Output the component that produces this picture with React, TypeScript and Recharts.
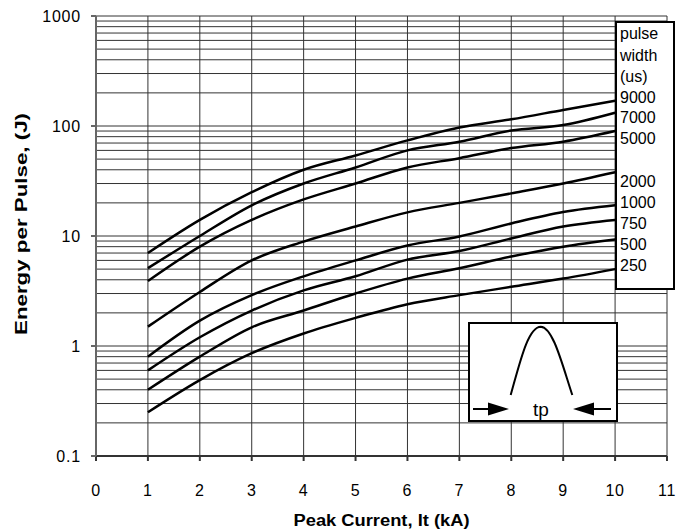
import React from "react";
import { LineChart, Line, XAxis, YAxis, ReferenceLine, Label } from "recharts";

const peakCurrent = [1, 2, 3, 4, 5, 6, 7, 8, 9, 10];
const e9000 = [7, 14, 25, 40, 54, 74, 97, 115, 140, 170];
const e7000 = [5.1, 10, 19, 30, 42, 60, 72, 91, 102, 132];
const e5000 = [3.9, 8, 14, 21.5, 30, 42, 51, 63, 72, 90];
const e2000 = [1.5, 3.1, 6, 8.9, 12.2, 16.4, 20, 24.4, 30, 38];
const e1000 = [0.8, 1.7, 2.9, 4.3, 6, 8.2, 9.9, 13, 16.5, 19];
const e750 = [0.6, 1.2, 2.1, 3.2, 4.3, 6.1, 7.3, 9.5, 12.2, 14];
const e500 = [0.4, 0.8, 1.48, 2.1, 3, 4.1, 5.1, 6.5, 8, 9.3];
const e250 = [0.25, 0.49, 0.86, 1.3, 1.8, 2.4, 2.9, 3.45, 4.1, 5];

const seriesNames = ["9000", "7000", "5000", "2000", "1000", "750", "500", "250"];
const seriesValues = [e9000, e7000, e5000, e2000, e1000, e750, e500, e250];

const xTicks = [0, 1, 2, 3, 4, 5, 6, 7, 8, 9, 10, 11];
const yTicks = [0.1, 1, 10, 100, 1000];
const yGridValues = [
  0.2, 0.3, 0.4, 0.5, 0.6, 0.7, 0.8, 0.9, 1,
  2, 3, 4, 5, 6, 7, 8, 9, 10,
  20, 30, 40, 50, 60, 70, 80, 90, 100,
  200, 300, 400, 500, 600, 700, 800, 900, 1000,
];
const xGridValues = [1, 2, 3, 4, 5, 6, 7, 8, 9, 10, 11];

const legendHeader = ["pulse", "width", "(us)"];
const legendLabelY = [97, 117, 138, 181, 202, 223, 244, 265];
const legendHeaderY = [33, 55, 76];

const data = peakCurrent.map((x, i) => {
  const row: Record<string, number> = { x };
  seriesNames.forEach((n, k) => {
    row["s" + n] = seriesValues[k][i];
  });
  return row;
});

const FONT = "Liberation Sans, Arial, sans-serif";

export default function App() {
  return (
    <div style={{ position: "relative", width: 676, height: 523 }}>
      <LineChart
        width={676}
        height={523}
        data={data}
        margin={{ top: 8, right: 17, bottom: 0, left: 0 }}
      >
        {yGridValues.map((v) => (
          <ReferenceLine key={"h" + v} y={v} stroke="#333" strokeWidth={1} ifOverflow="extendDomain" />
        ))}
        {xGridValues.map((v) => (
          <ReferenceLine key={"v" + v} x={v} stroke="#333" strokeWidth={1} />
        ))}
        <XAxis
          dataKey="x"
          type="number"
          domain={[0, 11]}
          ticks={xTicks}
          interval={0}
          height={75}
          tickSize={5}
          tickMargin={24}
          stroke="#333"
          strokeWidth={2}
          tick={{ fill: "#000", fontSize: 16, fontFamily: FONT, letterSpacing: 0.8 }}
        >
          <Label
            content={(props: any) => {
              const vb = props.viewBox || {};
              return (
                <text
                  x={vb.x + vb.width / 2}
                  y={vb.y + 70}
                  textAnchor="middle"
                  fontFamily={FONT}
                  fontWeight="bold"
                  fontSize={16}
                  textLength={176}
                  lengthAdjust="spacingAndGlyphs"
                  fill="#000"
                >
                  Peak Current, It (kA)
                </text>
              );
            }}
          />
        </XAxis>
        <YAxis
          scale="log"
          domain={[0.1, 1000]}
          ticks={yTicks}
          interval={0}
          allowDataOverflow
          width={88}
          tickSize={5}
          tickMargin={10}
          stroke="#666"
          strokeWidth={2}
          tick={{ fill: "#000", fontSize: 16, fontFamily: FONT, letterSpacing: 0.8 }}
        >
          <Label
            content={() => {
              const cx = 13;
              const cy = 216;
              return (
                <text
                  x={cx}
                  y={cy}
                  transform={`rotate(-90 ${cx} ${cy})`}
                  textAnchor="middle"
                  dominantBaseline="central"
                  fontFamily={FONT}
                  fontWeight="bold"
                  fontSize={16}
                  textLength={222}
                  lengthAdjust="spacingAndGlyphs"
                  fill="#000"
                >
                  Energy per Pulse, (J)
                </text>
              );
            }}
          />
        </YAxis>
        {seriesNames.map((n) => (
          <Line
            key={n}
            dataKey={"s" + n}
            type="monotone"
            stroke="#000"
            strokeWidth={2.5}
            dot={false}
            isAnimationActive={false}
          />
        ))}
      </LineChart>
      <svg
        width={676}
        height={523}
        style={{ position: "absolute", left: 0, top: 0, pointerEvents: "none" }}
      >
        <g transform="translate(-8,-8)">
          <rect x={616} y={22} width={58} height={267} fill="#fff" stroke="#000" strokeWidth={2} />
          {legendHeader.map((t, i) => (
            <text key={t} x={620} y={legendHeaderY[i] + 6} fontFamily={FONT} fontSize={16} fill="#000">
              {t}
            </text>
          ))}
          {seriesNames.map((t, i) => (
            <text key={t} x={620} y={legendLabelY[i] + 6} fontFamily={FONT} fontSize={16} fill="#000">
              {t}
            </text>
          ))}
          <rect x={469} y={323} width={148} height={98} fill="#fff" stroke="#000" strokeWidth={2} />
          <path
            d="M 510.7 395 C 520 362, 528 327, 540.7 326.7 C 553 327, 562 364, 572.3 395"
            fill="none"
            stroke="#000"
            strokeWidth={2}
          />
          <line x1={473} y1={409} x2={495} y2={409} stroke="#000" strokeWidth={2} />
          <polygon points="488,402.5 509,409 488,415.5" fill="#000" />
          <line x1={589} y1={409} x2={611} y2={409} stroke="#000" strokeWidth={2} />
          <polygon points="594,402.5 573,409 594,415.5" fill="#000" />
          <text x={541} y={416} textAnchor="middle" fontFamily={FONT} fontSize={19} fill="#000">
            tp
          </text>
        </g>
      </svg>
    </div>
  );
}
